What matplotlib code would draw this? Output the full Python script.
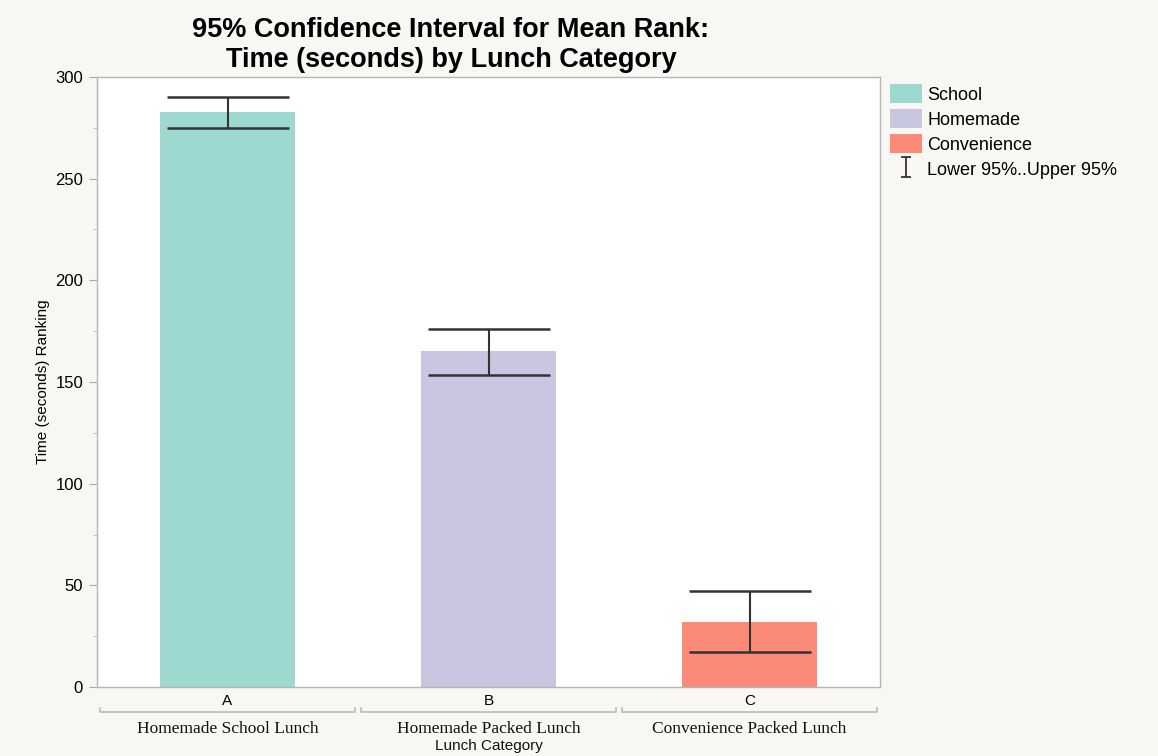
import matplotlib.pyplot as plt
from matplotlib.patches import Patch
from matplotlib.lines import Line2D
from matplotlib.path import Path
from matplotlib.ticker import MultipleLocator
import matplotlib.transforms as mtransforms

# mean ranks with 95% CI bounds per lunch category
groups = ["A", "B", "C"]
categories = ["Homemade School Lunch", "Homemade Packed Lunch", "Convenience Packed Lunch"]
legend_names = ["School", "Homemade", "Convenience"]
mean_rank = [283, 165, 32]
lower_95 = [275, 153.5, 17]
upper_95 = [290, 176, 47]
colors = ["#9dd9d0", "#c8c6e0", "#fb8a78"]

bg = "#f8f7f4"
fig = plt.figure(figsize=(11.58, 7.56), dpi=100, facecolor=bg)
ax = fig.add_axes([97 / 1158, 1 - 687 / 756, 783 / 1158, 610 / 756])
ax.set_facecolor("white")

x = range(len(groups))
ax.bar(x, mean_rank, width=0.52, color=colors, zorder=2)
yerr = [[m - lo for m, lo in zip(mean_rank, lower_95)],
        [hi - m for m, hi in zip(mean_rank, upper_95)]]
ax.errorbar(x, mean_rank, yerr=yerr, fmt="none", ecolor="#333333",
            elinewidth=1.5, capsize=44, capthick=1.8, zorder=3)

ax.set_xlim(-0.5, 2.5)
ax.set_ylim(0, 300)
ax.yaxis.set_major_locator(MultipleLocator(50))
ax.yaxis.set_minor_locator(MultipleLocator(25))
ax.set_xticks(list(x))
ax.set_xticklabels(groups, fontsize=11, family="Liberation Sans")
ax.tick_params(axis="x", length=0, pad=5)
ax.tick_params(axis="y", which="major", length=6, color="#aaaaaa",
               labelsize=12, pad=4)
ax.tick_params(axis="y", which="minor", length=3, color="#bbbbbb")
for lbl in ax.get_yticklabels():
    lbl.set_family("Liberation Sans")
for s in ax.spines.values():
    s.set_color("#b5b5b5")
    s.set_linewidth(1.0)

ax.set_ylabel("Time (seconds) Ranking", fontsize=11, family="Liberation Sans",
              labelpad=4)

# group brackets and category names under the axis
trans = mtransforms.blended_transform_factory(ax.transData, fig.transFigure)
yb = 1 - 712 / 756
tick_h = 4 / 756
for i, name in enumerate(categories):
    x0, x1 = i - 0.488, i + 0.488
    ax.add_line(Line2D([x0, x0, x1, x1], [yb + tick_h, yb, yb, yb + tick_h],
                       transform=trans, color="#bcbcbc", lw=1.2, clip_on=False))
    fig.text(i, 1 - 729 / 756, name, transform=trans, ha="center", va="center",
             fontsize=12.5, family="Liberation Serif", color="#111111")
fig.text(1, 1 - 746 / 756, "Lunch Category", transform=trans, ha="center",
         va="center", fontsize=11, family="Liberation Sans", color="#111111")

fig.text(451 / 1158, 1 - 45 / 756,
         "95% Confidence Interval for Mean Rank:\nTime (seconds) by Lunch Category",
         ha="center", va="center", fontsize=19.5, fontweight="bold",
         family="Liberation Sans", linespacing=1.2)

# I-beam glyph for the confidence interval entry
ibeam = Path([(-0.5, 1), (0.5, 1), (0, 1), (0, -1), (-0.5, -1), (0.5, -1)],
             [Path.MOVETO, Path.LINETO, Path.MOVETO, Path.LINETO,
              Path.MOVETO, Path.LINETO])
handles = [Patch(facecolor=c, edgecolor="none") for c in colors]
handles.append(Line2D([], [], color="#333333", marker=ibeam, linestyle="none",
                      markersize=14, markerfacecolor="none", markeredgewidth=1.3))
leg = fig.legend(handles, legend_names + ["Lower 95%..Upper 95%"],
                 loc="upper left", bbox_to_anchor=(883 / 1158, 1 - 77 / 756),
                 frameon=False, handlelength=1.75, handleheight=1.25,
                 handletextpad=0.3, labelspacing=0.3, borderaxespad=0,
                 prop={"family": "Liberation Sans", "size": 13})

fig.savefig("out.png", dpi=100, facecolor=bg)
